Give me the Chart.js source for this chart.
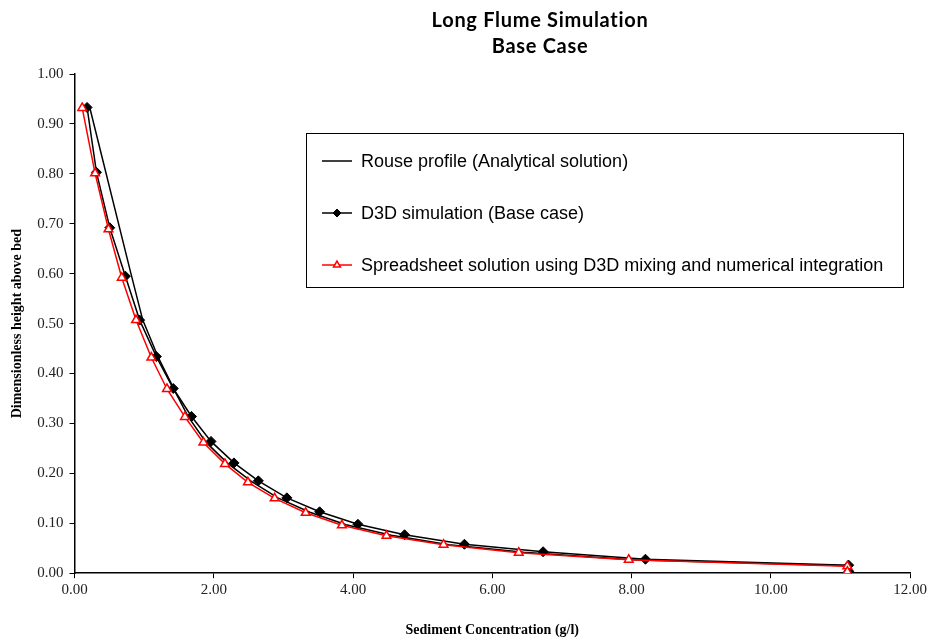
<!DOCTYPE html>
<html><head><meta charset="utf-8">
<script src="https://cdn.jsdelivr.net/npm/chart.js@4/dist/chart.umd.min.js"></script>
<style>html,body{margin:0;padding:0;background:#fff;}#wrap{width:930px;height:639px;position:relative;}</style>
</head><body><div id="wrap"><canvas id="c" width="930" height="639"></canvas></div>
<script>
const TITLE_LINES = ['Long Flume Simulation', 'Base Case'];
const X_TITLE = 'Sediment Concentration (g/l)';
const Y_TITLE = 'Dimensionless height above bed';
const X_TICKS = [0, 2, 4, 6, 8, 10, 12];
const Y_TICKS = [0, 0.1, 0.2, 0.3, 0.4, 0.5, 0.6, 0.7, 0.8, 0.9, 1.0];
const SERIES_LABELS = [
  'Rouse profile (Analytical solution)',
  'D3D simulation (Base case)',
  'Spreadsheet solution using D3D mixing and numerical integration'
];

const rouseX = [0.22, 0.81, 0.98, 1.20, 1.39, 1.42, 1.63, 1.89, 2.20, 2.54, 2.92, 3.38, 3.90, 4.55, 5.38, 6.45, 8.00, 11.10];
const rouseY = [0.932, 0.600, 0.507, 0.433, 0.380, 0.370, 0.314, 0.262, 0.220, 0.184, 0.151, 0.122, 0.097, 0.076, 0.057, 0.042, 0.027, 0.015];

const d3dX = [0.18, 0.315, 0.506, 0.73, 0.935, 1.175, 1.418, 1.68, 1.96, 2.29, 2.64, 3.05, 3.52, 4.07, 4.74, 5.60, 6.73, 8.20, 11.12, 11.12];
const d3dY = [0.933, 0.803, 0.692, 0.595, 0.507, 0.434, 0.370, 0.314, 0.264, 0.221, 0.185, 0.151, 0.123, 0.098, 0.077, 0.058, 0.043, 0.028, 0.016, 0.004];

const sheetX = [0.11, 0.295, 0.487, 0.678, 0.883, 1.103, 1.327, 1.585, 1.85, 2.16, 2.49, 2.874, 3.32, 3.84, 4.48, 5.30, 6.38, 7.96, 11.10, 11.10];
const sheetY = [0.932, 0.801, 0.689, 0.592, 0.507, 0.432, 0.369, 0.313, 0.262, 0.219, 0.182, 0.150, 0.121, 0.096, 0.075, 0.057, 0.041, 0.027, 0.014, 0.003];

const pts = (xs, ys) => xs.map((x, i) => ({x: x, y: ys[i]}));

const titlePlugin = {
  id: 'twoLineTitle',
  afterDraw(chart) {
    const ctx = chart.ctx;
    ctx.save();
    ctx.fillStyle = '#000';
    ctx.font = 'bold 20px Lato';
    try { ctx.letterSpacing = '0.7px'; } catch (e) {}
    ctx.textAlign = 'center';
    ctx.textBaseline = 'middle';
    ctx.fillText(TITLE_LINES[0], 540, 21);
    ctx.fillText(TITLE_LINES[1], 540, 47);
    ctx.restore();
  }
};

const boxLegend = {
  id: 'boxLegend',
  afterDraw(chart) {
    const ctx = chart.ctx;
    const bx = 306.5, by = 133.5, bw = 597, bh = 154;
    const rows = [161, 213, 265];
    ctx.save();
    ctx.fillStyle = '#fff';
    ctx.fillRect(bx, by, bw, bh);
    ctx.strokeStyle = '#000';
    ctx.lineWidth = 1;
    ctx.strokeRect(bx, by, bw, bh);
    chart.data.datasets.forEach((ds, i) => {
      const y = rows[i];
      ctx.strokeStyle = ds.borderColor;
      ctx.lineWidth = ds.borderWidth;
      ctx.beginPath();
      ctx.moveTo(322, y); ctx.lineTo(352, y);
      ctx.stroke();
      if (ds.pointRadius > 0) {
        ctx.fillStyle = ds.pointBackgroundColor;
        ctx.strokeStyle = ds.pointBorderColor;
        ctx.lineWidth = ds.pointBorderWidth;
        Chart.helpers.drawPoint(ctx, {
          pointStyle: ds.pointStyle, radius: ds.pointRadius - 1, borderWidth: ds.pointBorderWidth
        }, 337, y);
      }
      ctx.fillStyle = '#000';
      ctx.font = '18px "Liberation Sans"';
      ctx.textAlign = 'left';
      ctx.textBaseline = 'middle';
      ctx.fillText(ds.label, 361, y + 1);
    });
    ctx.restore();
  }
};

new Chart(document.getElementById('c'), {
  type: 'scatter',
  data: {
    datasets: [
      {
        label: SERIES_LABELS[0],
        data: pts(rouseX, rouseY),
        showLine: true,
        borderColor: '#000',
        backgroundColor: '#000',
        borderWidth: 1.5,
        pointRadius: 0,
        tension: 0,
        order: 1
      },
      {
        label: SERIES_LABELS[1],
        data: pts(d3dX, d3dY),
        showLine: true,
        borderColor: '#000',
        borderWidth: 1.5,
        pointStyle: 'rectRot',
        pointRadius: 5,
        pointBackgroundColor: '#000',
        pointBorderColor: '#000',
        pointBorderWidth: 1,
        tension: 0,
        order: 2
      },
      {
        label: SERIES_LABELS[2],
        data: pts(sheetX, sheetY),
        showLine: true,
        borderColor: '#ff0000',
        borderWidth: 1.5,
        pointStyle: 'triangle',
        pointRadius: 5,
        pointBackgroundColor: '#fff',
        pointBorderColor: '#ff0000',
        pointBorderWidth: 1.5,
        tension: 0,
        order: 0
      }
    ]
  },
  options: {
    responsive: false,
    devicePixelRatio: 1,
    animation: false,
    layout: { padding: { left: 9, right: 20, top: 74, bottom: 0 } },
    plugins: { legend: { display: false }, title: { display: false }, tooltip: { enabled: false } },
    scales: {
      x: {
        type: 'linear', min: 0, max: 12,
        afterBuildTicks: s => { s.ticks = X_TICKS.map(v => ({value: v})); },
        ticks: {
          color: '#222', padding: 3, maxRotation: 0,
          font: { family: '"Liberation Serif"', size: 15 },
          callback: v => Number(v).toFixed(2)
        },
        grid: { display: true, drawOnChartArea: false, drawTicks: true, tickLength: 5, color: '#000', lineWidth: 1 },
        border: { display: true, color: '#000', width: 1.5 },
        title: {
          display: true, text: X_TITLE, color: '#000',
          font: { family: '"Liberation Serif"', size: 14, weight: 'bold' },
          padding: { top: 20, bottom: 0 }
        }
      },
      y: {
        type: 'linear', min: 0, max: 1,
        afterBuildTicks: s => { s.ticks = Y_TICKS.map(v => ({value: v})); },
        ticks: {
          color: '#222', padding: 6,
          font: { family: '"Liberation Serif"', size: 15 },
          callback: v => Number(v).toFixed(2)
        },
        grid: { display: true, drawOnChartArea: false, drawTicks: true, tickLength: 5, color: '#000', lineWidth: 1 },
        border: { display: true, color: '#000', width: 1.5 },
        title: {
          display: true, text: Y_TITLE, color: '#000',
          font: { family: '"Liberation Serif"', size: 14, weight: 'bold' },
          padding: { top: 0, bottom: 5.5 }
        }
      }
    }
  },
  plugins: [titlePlugin, boxLegend]
});
</script>
</body></html>
